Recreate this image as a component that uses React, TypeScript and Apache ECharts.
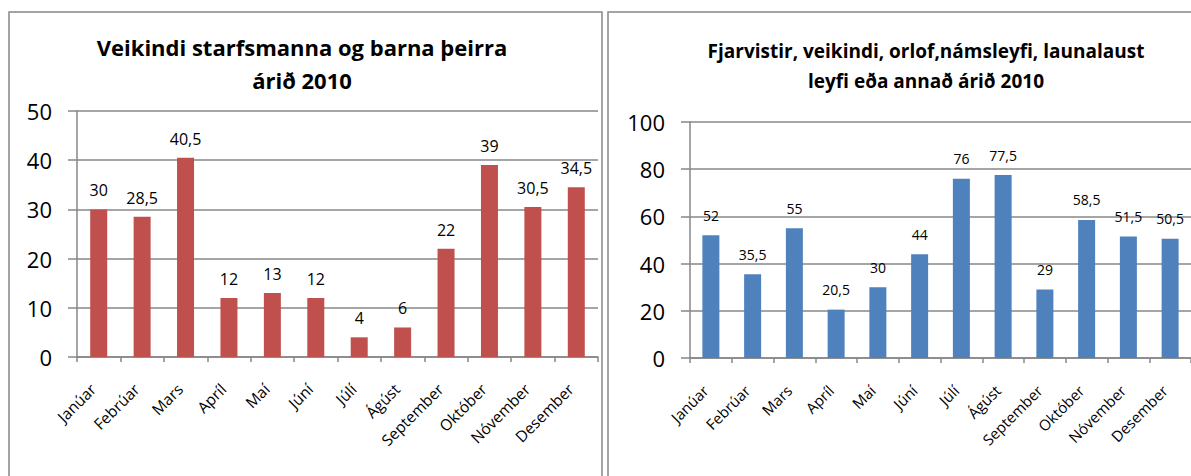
import React, { useEffect, useRef } from "react";
import * as echarts from "echarts";

const months = ["Janúar", "Febrúar", "Mars", "Apríl", "Maí", "Júní", "Júlí", "Ágúst", "September", "Október", "Nóvember", "Desember"];
const sickValues = [30, 28.5, 40.5, 12, 13, 12, 4, 6, 22, 39, 30.5, 34.5];
const absenceValues = [52, 35.5, 55, 20.5, 30, 44, 76, 77.5, 29, 58.5, 51.5, 50.5];
const leftTitle = "Veikindi starfsmanna og barna þeirra\nárið 2010";
const rightTitle = "Fjarvistir, veikindi, orlof,námsleyfi, launalaust\nleyfi eða annað árið 2010";

const FONT = "'Open Sans', Lato, sans-serif";
const GRAY = "#878787";

const fmt = (p: any) => String(p.value).replace(".", ",");

export default function App() {
  const ref = useRef<HTMLDivElement>(null);
  useEffect(() => {
    if (!ref.current) return;
    const chart = echarts.init(ref.current, null, { renderer: "svg" });
    const xAxisBase = (gridIndex: number, fs: number) => ({
      type: "category",
      gridIndex,
      data: months,
      boundaryGap: true,
      axisLine: { show: true, lineStyle: { color: GRAY, width: 1.5 } },
      axisTick: { show: true, length: 5, alignWithLabel: false, lineStyle: { color: GRAY, width: 1.5 } },
      axisLabel: { rotate: 45, interval: 0, fontSize: fs, color: "#000", fontFamily: FONT, margin: 35, verticalAlign: "bottom" },
    });
    const yAxisBase = (gridIndex: number, max: number, interval: number) => ({
      type: "value",
      gridIndex,
      min: 0,
      max,
      interval,
      axisLine: { show: true, lineStyle: { color: GRAY, width: 1.5 } },
      axisTick: { show: true, length: 9, lineStyle: { color: GRAY, width: 1.5 } },
      axisLabel: { fontSize: 22, color: "#000", fontFamily: FONT, margin: 25 },
      splitLine: { show: true, lineStyle: { color: GRAY, width: 1.5 } },
    });
    chart.setOption({
      animation: false,
      backgroundColor: "#fff",
      title: [
        {
          text: leftTitle,
          left: 297,
          top: 25,
          textAlign: "center",
          textStyle: { fontSize: 22, fontWeight: "bold", fontFamily: FONT, color: "#000", lineHeight: 33 },
        },
        {
          text: rightTitle,
          left: 921,
          top: 31,
          textAlign: "center",
          textStyle: { fontSize: 19, fontWeight: "bold", fontFamily: FONT, color: "#000", lineHeight: 30 },
        },
      ],
      graphic: [
        { type: "rect", shape: { x: 9, y: 12, width: 593, height: 520 }, style: { fill: "none", stroke: GRAY, lineWidth: 1.5 }, silent: true },
        { type: "rect", shape: { x: 608, y: 12, width: 700, height: 520 }, style: { fill: "none", stroke: GRAY, lineWidth: 1.5 }, silent: true },
      ],
      grid: [
        { left: 77, top: 111, width: 521, height: 246 },
        { left: 690, top: 122, width: 507, height: 236 },
      ],
      xAxis: [xAxisBase(0, 15.5), xAxisBase(1, 15)],
      yAxis: [yAxisBase(0, 50, 10), yAxisBase(1, 100, 20)],
      series: [
        {
          type: "bar",
          xAxisIndex: 0,
          yAxisIndex: 0,
          data: sickValues,
          barWidth: 17,
          itemStyle: { color: "#C0504D" },
          label: { show: true, position: "top", distance: 11, fontSize: 16, color: "#000", fontFamily: FONT, formatter: fmt },
        },
        {
          type: "bar",
          xAxisIndex: 1,
          yAxisIndex: 1,
          data: absenceValues,
          barWidth: 17,
          itemStyle: { color: "#4F81BD" },
          label: { show: true, position: "top", distance: 13, fontSize: 14, color: "#000", fontFamily: FONT, formatter: fmt },
        },
      ],
    });
    return () => chart.dispose();
  }, []);
  return <div ref={ref} style={{ position: "fixed", left: 0, top: 0, width: 1191, height: 476 }} />;
}
